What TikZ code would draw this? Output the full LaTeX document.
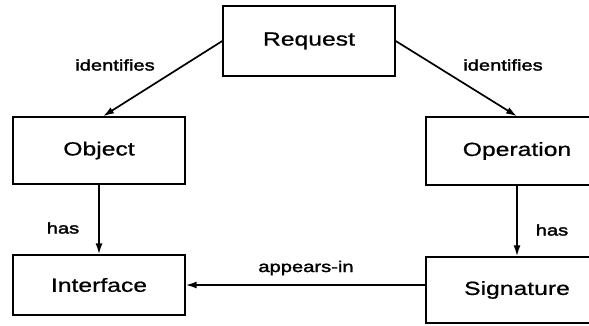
\documentclass[tikz,border=0pt]{standalone}
\usepackage{fontspec}
\setmainfont{Liberation Sans}[FakeStretch=1.3, FakeBold=0.8]
\newfontfamily\lblfont{Liberation Sans}[FakeStretch=1.3, FakeBold=2]
\usetikzlibrary{arrows.meta}
\begin{document}
\begin{tikzpicture}[x=1pt,y=1pt,
  box/.style={draw, line width=1.4pt, inner sep=0pt, font=\fontsize{19}{22}\selectfont},
  conn/.style={line width=1.7pt, -{Latex[length=11pt,width=7pt]}},
  lbl/.style={font=\lblfont\fontsize{15.5}{18}\selectfont, inner sep=0pt}]
\clip (0,0) rectangle (589,326);
\fill[white] (0,0) rectangle (589,326);
\node[box, minimum width=172pt, minimum height=70pt] (req) at (309,285) {Request};
\node[box, minimum width=172pt, minimum height=67pt] (obj) at (99,175.5) {Object};
\node[box, minimum width=182pt, minimum height=68pt] (op) at (517,175) {Operation};
\node[box, minimum width=172pt, minimum height=60pt] (intf) at (99,41) {Interface};
\node[box, minimum width=182pt, minimum height=66pt] (sig) at (517,36) {Signature};
\draw[conn] (req.west) -- ([xshift=4pt]obj.north);
\draw[conn] (req.east) -- (op.north);
\draw[conn] (obj.south) -- (intf.north);
\draw[conn] (op.south) -- (sig.north);
\draw[conn] (sig.west |- intf.east) -- (intf.east);
\node[lbl] (l1) at (115,261) {identifies};
\node[lbl] (l2) at (503,261) {identifies};
\node[lbl] (l3) at (63,98) {has};
\node[lbl] (l4) at (552,96) {has};
\node[lbl] (l5) at (306,58) {appears-in};
\end{tikzpicture}
\end{document}
